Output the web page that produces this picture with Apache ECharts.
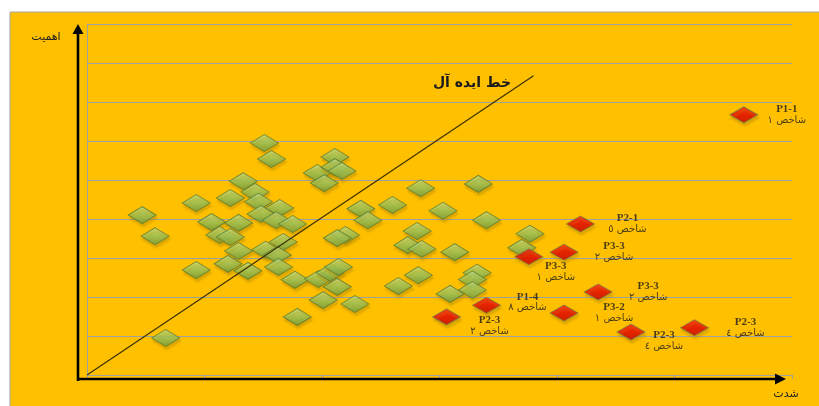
<!DOCTYPE html>
<html><head><meta charset="utf-8">
<script src="https://cdn.jsdelivr.net/npm/echarts@6/dist/echarts.min.js"></script>
<style>html,body{margin:0;padding:0;background:#fff}#c{width:819px;height:406px}</style>
</head><body><div id="c"></div>
<script>
// ---- data ----
const greenX = [1.51,1.57,2.11,1.96,2.11,2.17,2.02,1.33,1.43,1.22,0.93,1.46,0.47,1.64,1.48,1.06,1.29,1.61,1.75,2.33,2.39,0.58,1.13,1.22,2.20,2.13,1.67,1.29,1.52,1.62,0.93,1.20,1.37,1.63,1.77,1.97,2.07,2.14,2.13,2.01,2.28,1.79,0.67,2.84,3.33,2.60,3.03,3.40,2.81,2.73,2.85,3.13,3.77,3.70,2.82,2.65,3.32,3.28,3.28,3.09];
const greenY = [5.95,5.54,5.59,5.18,5.33,5.23,4.92,4.97,4.69,4.54,4.41,4.44,4.10,4.28,4.13,3.92,3.90,3.97,3.87,4.26,3.97,3.56,3.59,3.54,3.59,3.51,3.41,3.18,3.21,3.08,2.69,2.85,2.67,2.77,2.44,2.46,2.62,2.77,2.26,1.92,1.82,1.49,0.95,4.79,4.90,4.36,4.21,3.97,3.69,3.33,3.23,3.15,3.62,3.26,2.56,2.28,2.62,2.45,2.18,2.08];
const redX = [5.59,4.20,4.06,3.76,4.35,3.40,3.06,4.06,4.63,5.17];
const redY = [6.67,3.87,3.15,3.03,2.13,1.79,1.49,1.59,1.10,1.21];
const redCodes = ['P1-1','P2-1','P3-3','P3-3','P3-3','P1-4','P2-3','P3-2','P2-3','P2-3'];
const redIndices = ['شاخص ١','شاخص ٥','شاخص ٢','شاخص ١','شاخص ٢','شاخص ٨','شاخص ٢','شاخص ١','شاخص ٤','شاخص ٤'];
const idealX = [0, 3.8];
const idealY = [0, 7.67];
const xName = 'شدت';
const yName = 'اهمیت';
const idealName = 'خط ایده آل';
// label placement (pixels, layout only)
const labelOffsets = [[43,0],[47,0],[50,0],[27,15],[50,0],[41,-3],[43,9],[50,0],[33,9],[51,0]];

const chart = echarts.init(document.getElementById('c'));
const greenStyle = {
  color: new echarts.graphic.LinearGradient(0,0,0,1,[{offset:0,color:'#c3e395'},{offset:0.45,color:'#9cc760'},{offset:1,color:'#6e9a3c'}]),
  borderColor:'#5e7a30', borderWidth:1,
  shadowColor:'rgba(180,140,0,0.55)', shadowBlur:2, shadowOffsetX:1, shadowOffsetY:3
};
const redStyle = {
  color: new echarts.graphic.LinearGradient(0,0,0,1,[{offset:0,color:'#ff1a1a'},{offset:0.5,color:'#e80000'},{offset:1,color:'#c40000'}]),
  borderColor:'#7d7a45', borderWidth:1,
  shadowColor:'rgba(180,140,0,0.55)', shadowBlur:2, shadowOffsetX:1, shadowOffsetY:3
};

chart.setOption({
  animation:false,
  backgroundColor:'#ffffff',
  grid:{left:87, top:24, right:27, bottom:31},
  xAxis:{type:'value', min:0, max:6, interval:1,
    axisLine:{show:true, lineStyle:{color:'#a0a0a0', width:1}},
    axisTick:{show:true, length:4, lineStyle:{color:'#a0a0a0'}},
    axisLabel:{show:false}, splitLine:{show:false}},
  yAxis:{type:'value', min:0, max:9, interval:1,
    axisLine:{show:true, lineStyle:{color:'#a0a0a0', width:1}},
    axisTick:{show:false}, axisLabel:{show:false},
    splitLine:{show:true, lineStyle:{color:'#a0a0a0', width:1}}},
  graphic:[
    {type:'rect', z:-5, shape:{x:10, y:12, width:820, height:400}, style:{fill:'#FFC000', stroke:'#a6a6a6', lineWidth:1}},
    {type:'line', z:50, shape:{x1:78, y1:381, x2:78, y2:32}, style:{stroke:'#000', lineWidth:2.6}},
    {type:'polygon', z:50, shape:{points:[[72.5,34],[83.5,34],[78,24]]}, style:{fill:'#000'}},
    {type:'line', z:50, shape:{x1:77, y1:379, x2:776, y2:379}, style:{stroke:'#000', lineWidth:2.6}},
    {type:'polygon', z:50, shape:{points:[[775,373.5],[775,384.5],[786,379]]}, style:{fill:'#000'}},
    {type:'text', z:50, x:46, y:37, style:{text:yName, font:'11px "DejaVu Sans"', fill:'#222', align:'center', verticalAlign:'middle'}},
    {type:'text', z:50, x:786, y:394, style:{text:xName, font:'11px "DejaVu Sans"', fill:'#222', align:'center', verticalAlign:'middle'}},
    {type:'text', z:50, x:472, y:83, style:{text:idealName, font:'bold 14px "DejaVu Sans"', fill:'#1a1a1a', align:'center', verticalAlign:'middle'}}
  ],
  series:[
    {type:'scatter', symbol:'diamond', symbolSize:[28,17], z:3,
      data: greenX.map((x,i)=>[x, greenY[i]]), itemStyle:greenStyle},
    {type:'line', z:4, symbol:'none', silent:true,
      data: idealX.map((x,i)=>[x, idealY[i]]),
      lineStyle:{color:'#3a3000', width:1.2}},
    {type:'scatter', symbol:'diamond', symbolSize:[28,16], z:5,
      data: redX.map((x,i)=>({value:[x, redY[i]],
        label:{offset:labelOffsets[i]}})),
      itemStyle:redStyle,
      label:{show:true, position:'inside', align:'center', verticalAlign:'middle',
        formatter:(p)=>'{a|'+redCodes[p.dataIndex]+'}\n{b|'+redIndices[p.dataIndex]+'}',
        rich:{
          a:{fontFamily:'"Liberation Serif"', fontWeight:'bold', fontSize:11, color:'#1a1a1a', lineHeight:11, align:'center'},
          b:{fontFamily:'"DejaVu Sans"', fontSize:10, color:'#1a1a1a', lineHeight:11, align:'center'}
        }}}
  ]
});
</script>
</body></html>
